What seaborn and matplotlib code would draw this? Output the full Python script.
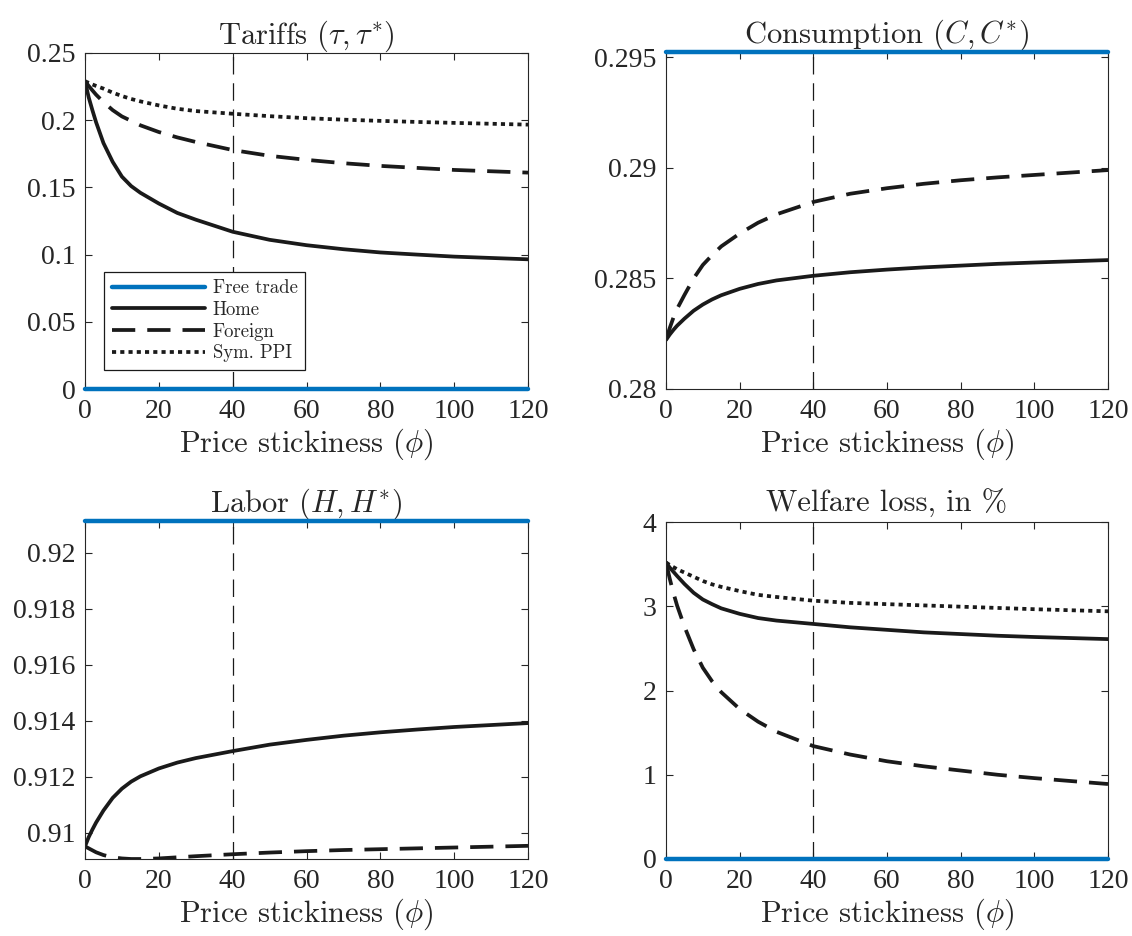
import numpy as np
import pandas as pd
import matplotlib
matplotlib.use("Agg")
import matplotlib.pyplot as plt
from matplotlib.ticker import FuncFormatter, MultipleLocator
import seaborn as sns


# price stickiness grid
phi = [0, 1, 2, 3, 5, 7.5, 10, 12.5, 15, 20, 25, 30, 40, 50, 60, 70, 80, 90, 100, 120]
phi_ref = 40

# tariffs
tau_free = 0.0
tau_home = [0.229, 0.217, 0.2075, 0.1985, 0.183, 0.169, 0.158, 0.151, 0.146, 0.138,
            0.131, 0.126, 0.117, 0.111, 0.107, 0.104, 0.1016, 0.100, 0.0985, 0.0965]
tau_foreign = [0.229, 0.2255, 0.2222, 0.219, 0.2135, 0.2075, 0.2028, 0.1995, 0.1962, 0.1912,
               0.1872, 0.1838, 0.1778, 0.1735, 0.1705, 0.168, 0.166, 0.1645, 0.163, 0.161]
tau_sym = [0.229, 0.2278, 0.2266, 0.2255, 0.2235, 0.2205, 0.218, 0.2158, 0.214, 0.211,
           0.2085, 0.2068, 0.2048, 0.203, 0.2015, 0.2004, 0.1995, 0.1987, 0.198, 0.1967]

# consumption
c_free = 0.29524
c_home = [0.28222, 0.28246, 0.28267, 0.28286, 0.28318, 0.28354, 0.28382, 0.28405, 0.28424, 0.28453,
          0.28475, 0.28491, 0.28512, 0.28528, 0.28540, 0.28550, 0.28558, 0.28566, 0.28572, 0.28583]
c_foreign = [0.28222, 0.28275, 0.28322, 0.28362, 0.28425, 0.28500, 0.28561, 0.28605, 0.28645, 0.28703,
             0.28752, 0.28790, 0.28846, 0.28883, 0.28908, 0.28928, 0.28944, 0.28957, 0.28968, 0.28990]

# labor
h_free = 0.92113
h_home = [0.90952, 0.90985, 0.91012, 0.91037, 0.91080, 0.91125, 0.91158, 0.91183, 0.91202, 0.91230,
          0.91251, 0.91267, 0.91292, 0.91315, 0.91332, 0.91347, 0.91359, 0.91369, 0.91378, 0.91392]
h_foreign = [0.90952, 0.90945, 0.90938, 0.90931, 0.90921, 0.90913, 0.90909, 0.90907, 0.90907, 0.90909,
             0.90913, 0.90917, 0.90924, 0.90930, 0.90935, 0.90939, 0.90942, 0.90945, 0.90948, 0.90954]

# welfare loss in %
w_free = 0.0
w_home = [3.52, 3.46, 3.41, 3.36, 3.265, 3.16, 3.08, 3.025, 2.975, 2.91,
          2.86, 2.83, 2.79, 2.75, 2.72, 2.69, 2.67, 2.65, 2.635, 2.61]
w_foreign = [3.52, 3.33, 3.16, 3.01, 2.76, 2.49, 2.27, 2.11, 1.98, 1.78,
             1.63, 1.51, 1.34, 1.24, 1.16, 1.10, 1.05, 1.00, 0.96, 0.89]
w_sym = [3.52, 3.49, 3.465, 3.44, 3.40, 3.35, 3.30, 3.26, 3.23, 3.18,
         3.135, 3.11, 3.066, 3.04, 3.025, 3.01, 2.995, 2.98, 2.965, 2.94]

sns.set_theme(style="ticks")
plt.rcParams["font.family"] = ["Liberation Serif", "DejaVu Serif"]
plt.rcParams["mathtext.fontset"] = "cm"
plt.rcParams["axes.edgecolor"] = "#262626"
plt.rcParams["xtick.color"] = "#262626"
plt.rcParams["ytick.color"] = "#262626"
plt.rcParams["axes.linewidth"] = 0.8

BLUE = "#0072BD"
LW = 2.7
TFONT = dict(family="cmr10", size=22)

fig = plt.figure(figsize=(11.32, 9.36), dpi=100)
pos = {
    "tl": [85 / 1132, 1 - 389 / 936, 443 / 1132, 336 / 936],
    "tr": [666 / 1132, 1 - 389 / 936, 442 / 1132, 337 / 936],
    "bl": [85 / 1132, 1 - 859 / 936, 443 / 1132, 338 / 936],
    "br": [666 / 1132, 1 - 859 / 936, 442 / 1132, 337 / 936],
}

panels = [
    ("tl", r"Tariffs $(\tau,\tau^{*})$", tau_free, tau_home, tau_foreign, tau_sym, (0, 0.25), 0.05),
    ("tr", r"Consumption $(C,C^{*})$", c_free, c_home, c_foreign, None, (0.28, c_free), 0.005),
    ("bl", r"Labor $(H,H^{*})$", h_free, h_home, h_foreign, None, (min(h_foreign), h_free), 0.002),
    ("br", r"Welfare loss, in %", w_free, w_home, w_foreign, w_sym, (0, 4), 1),
]

for key, title, free, home, foreign, sym, ylim, step in panels:
    ax = fig.add_axes(pos[key])
    sns.lineplot(x=phi, y=[free] * len(phi), ax=ax, color=BLUE, linewidth=LW + 0.5,
                 label="Free trade", clip_on=False, zorder=5)
    sns.lineplot(x=phi, y=home, ax=ax, color="k", linewidth=LW, label="Home")
    sns.lineplot(x=phi, y=foreign, ax=ax, color="k", linewidth=LW, label="Foreign")
    ax.lines[-1].set_dashes((6.2, 3.2))
    if sym is not None:
        sns.lineplot(x=phi, y=sym, ax=ax, color="k", linewidth=LW, label="Sym. PPI")
        ax.lines[-1].set_dashes((1.1, 1.1))
    ax.axvline(phi_ref, color="k", linewidth=0.9, dashes=(14, 7), zorder=1)

    ax.set_xlim(0, 120)
    ax.set_ylim(*ylim)
    ax.xaxis.set_major_locator(MultipleLocator(20))
    ax.yaxis.set_major_locator(MultipleLocator(step))
    ax.yaxis.set_major_formatter(FuncFormatter(lambda v, p: "%g" % round(v, 6)))
    ax.tick_params(direction="in", length=5, width=0.8, top=True, right=True,
                   labelsize=20, pad=7)
    for s in ax.spines.values():
        s.set_visible(True)

    ax.set_title(title, fontdict=TFONT, pad=7)
    ax.set_xlabel(r"Price stickiness $(\phi)$", fontdict=TFONT, labelpad=2)
    ax.set_ylabel("")

    if key == "tl":
        leg = ax.legend(loc="lower left", bbox_to_anchor=(0.043, 0.057), frameon=True,
                        fancybox=False, edgecolor="k", framealpha=1,
                        prop=dict(family="cmr10", size=13.5), handlelength=5.0,
                        handletextpad=0.4, labelspacing=0.2, borderpad=0.4,
                        borderaxespad=0)
        leg.get_frame().set_linewidth(0.9)
    else:
        ax.get_legend().remove()

fig.savefig("out.png", dpi=100)
